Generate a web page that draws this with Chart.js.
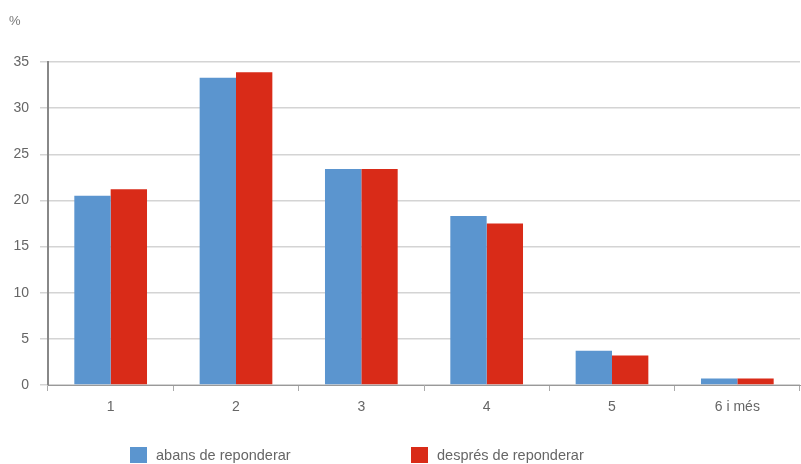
<!DOCTYPE html>
<html><head><meta charset="utf-8">
<script src="https://cdn.jsdelivr.net/npm/chart.js@4/dist/chart.umd.min.js"></script>
<style>
html,body{margin:0;padding:0;background:#fff;}
#wrap{position:relative;width:801px;height:464px;font-family:"Liberation Sans",Arial,sans-serif;color:#666;}
#c{position:absolute;left:0;top:0;}
#pct{position:absolute;left:9px;top:13px;font-size:13px;color:#777;}
.leg{position:absolute;top:447px;font-size:14.5px;color:#666;display:flex;align-items:center;}
.sw{width:17px;height:16px;margin-right:9px;display:inline-block;}
</style></head>
<body>
<div id="wrap">
<canvas id="c" width="801" height="464"></canvas>
<div id="pct">%</div>
<div class="leg" style="left:130px"><span class="sw" style="background:#5b95cf"></span>abans de reponderar</div>
<div class="leg" style="left:411px"><span class="sw" style="background:#d92b18"></span>després de reponderar</div>
</div>
<script>
const categories = ["1","2","3","4","5","6 i més"];
const abans = [20.5, 33.3, 23.4, 18.3, 3.7, 0.7];
const despres = [21.2, 33.9, 23.4, 17.5, 3.2, 0.7];
const seriesNames = ["abans de reponderar","després de reponderar"];
const yTicks = [0,5,10,15,20,25,30,35];

new Chart(document.getElementById('c'), {
  type: 'bar',
  data: {
    labels: categories,
    datasets: [
      {label: seriesNames[0], data: abans, backgroundColor: '#5b95cf', categoryPercentage: 0.58, barPercentage: 1},
      {label: seriesNames[1], data: despres, backgroundColor: '#d92b18', categoryPercentage: 0.58, barPercentage: 1}
    ]
  },
  options: {
    responsive: false,
    animation: false,
    layout: {padding: {left: 0, right: 1, top: 62, bottom: 48}},
    plugins: {legend: {display: false}, tooltip: {enabled: false}},
    scales: {
      x: {
        grid: {drawOnChartArea: false, drawTicks: true, tickLength: 6, color: '#aaa', offset: true},
        border: {display: true, color: '#999', width: 1},
        ticks: {color: '#666', font: {family: 'Liberation Sans', size: 14}, padding: 8},
        afterFit: s => { s.height = 31; }
      },
      y: {
        min: 0, max: 35,
        afterBuildTicks: s => { s.ticks = yTicks.map(v => ({value: v})); },
        grid: {color: '#d4d4d4', lineWidth: 1.5, drawTicks: true, tickLength: 8},
        border: {display: true, color: '#888', width: 2},
        ticks: {color: '#666', font: {family: 'Liberation Sans', size: 14}, padding: 11},
        afterFit: s => { s.width = 48; }
      }
    }
  }
});
</script>
</body></html>
